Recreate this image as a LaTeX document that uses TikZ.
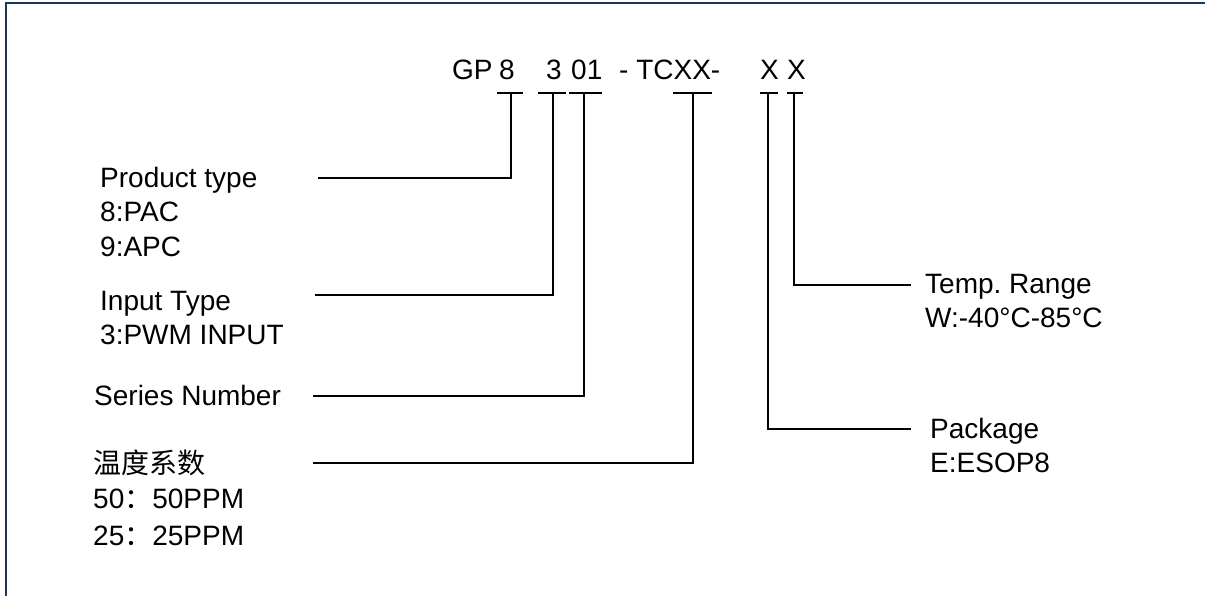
\documentclass[tikz,border=0pt]{standalone}
\usepackage{fontspec}
\setmainfont{Liberation Sans}
\newfontfamily\cjk{Noto Sans CJK SC}
\usetikzlibrary{positioning}
\definecolor{framenavy}{RGB}{24,55,94}
\frenchspacing

\begin{document}
\begin{tikzpicture}[x=1pt,y=-1pt]
    \tikzset{label/.style={anchor=base west, inner sep=0pt,
                           font=\fontsize{28}{34}\selectfont}}
    \tikzset{code/.style={anchor=base west, inner sep=0pt,
                          font=\fontsize{28}{34}\selectfont}}
    \tikzset{lead/.style={line width=1.1pt, black}}

    \useasboundingbox (0,0) rectangle (1205,596);
    \draw[framenavy, line width=2.8pt] (6,596) -- (6,3) -- (1205,3);

    % part number
    \node (gp) [code] at (452,80) {GP};
    \node (p8) [code] at (499,80) {8};
    \node (p3) [code] at (546,80) {3};
    \node (p01) [code] at (571,80) {01};
    \node (tc) [code] at (619,80) {- TCXX-};
    \node (xa) [code] at (760,80) {X};
    \node (xb) [code] at (787,80) {X};

    % bars under the code
    \coordinate (bar8) at (511,93);
    \coordinate (bar3) at (553,93);
    \coordinate (bar01) at (584,93);
    \coordinate (bartc) at (693,93);
    \coordinate (barxa) at (768,93);
    \coordinate (barxb) at (794,93);
    \draw[lead] ([xshift=-14]bar8) -- ([xshift=12]bar8);
    \draw[lead] ([xshift=-15]bar3) -- ([xshift=13]bar3);
    \draw[lead] ([xshift=-15]bar01) -- ([xshift=18]bar01);
    \draw[lead] ([xshift=-20]bartc) -- ([xshift=19]bartc);
    \draw[lead] ([xshift=-8]barxa) -- ([xshift=10]barxa);
    \draw[lead] ([xshift=-7]barxb) -- ([xshift=9]barxb);

    % descriptions
    \node (prod) [label] at (100,188) {Product type};
    \node (prod8) [label] at (100,222) {8:PAC};
    \node (prod9) [label] at (100,256) {9:APC};
    \node (inp) [label] at (100,310) {Input Type};
    \node (inp3) [label] at (100,344) {3:PWM INPUT};
    \node (ser) [label] at (94,405) {Series Number};
    \node (tcr) [label] at (93,473) {\cjk 温度系数};
    \node (tcr50) [label] at (93,508) {50{\cjk ：}50PPM};
    \node (tcr25) [label] at (93,545) {25{\cjk ：}25PPM};
    \node (temp) [label] at (925,293) {Temp. Range};
    \node (tempw) [label] at (925,327) {W:-40°C-85°C};
    \node (pkg) [label] at (930,438) {Package};
    \node (pkge) [label] at (930,472) {E:ESOP8};

    % leader lines
    \coordinate (lprod) at (318,178);
    \coordinate (linp) at (315,295);
    \coordinate (lser) at (313,396);
    \coordinate (ltcr) at (313,463);
    \coordinate (ltemp) at (911,285);
    \coordinate (lpkg) at (911,429);

    \draw[lead] (lprod) -| (bar8);
    \draw[lead] (linp) -| (bar3);
    \draw[lead] (lser) -| (bar01);
    \draw[lead] (ltcr) -| (bartc);
    \draw[lead] (ltemp) -| (barxb);
    \draw[lead] (lpkg) -| (barxa);

\end{tikzpicture}
\end{document}
